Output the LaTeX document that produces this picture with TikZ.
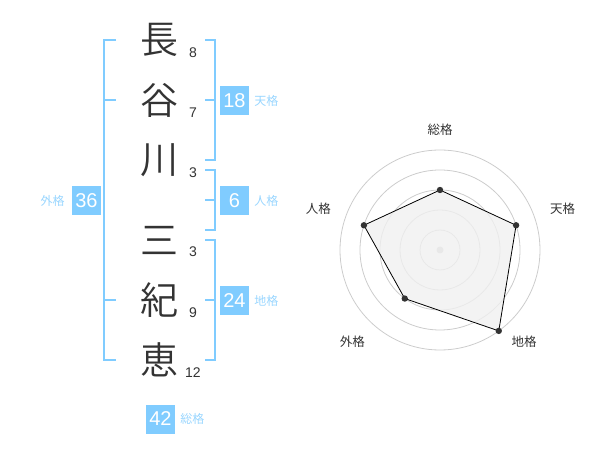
\documentclass[tikz,border=0pt]{standalone}
\usepackage{fontspec}
\setmainfont{Liberation Sans}
\newfontfamily\jpfont{Noto Sans CJK JP}
\newfontfamily\jplight{Noto Sans CJK JP DemiLight}
\usetikzlibrary{positioning}
\definecolor{inkdark}{HTML}{333333}
\definecolor{kakublue}{HTML}{80CCFF}
\definecolor{kakulight}{HTML}{99D6FF}
\definecolor{ringgray}{HTML}{CCCCCC}
\definecolor{areagray}{HTML}{F0F0F0}
\begin{document}
\begin{tikzpicture}[x=1pt,y=-1pt,
    kanji/.style={font=\jplight\fontsize{38}{38}\selectfont, text=inkdark},
    strokes/.style={font=\fontsize{14}{14}\selectfont, text=inkdark},
    bracket/.style={draw=kakublue, line width=2pt},
    kakubox/.style={fill=kakublue, text=white, minimum size=29pt,
        font=\fontsize{20}{20}\selectfont},
    kakulabel/.style={text=kakulight, font=\jpfont\fontsize{12}{12}\selectfont},
    axislabel/.style={text=inkdark, font=\jpfont\fontsize{12.5}{12.5}\selectfont}]
    \tikzstyle{every node}+=[inner sep=0pt]
    \useasboundingbox (0,0) rectangle (600,470);
    % name characters
    \node [kanji] (c1) at (159,40) {長};
    \node [kanji] (c2) at (159,100) {谷};
    \node [kanji] (c3) at (159,160) {川};
    \node [kanji] (c4) at (159,240) {三};
    \node [kanji] (c5) at (159,300) {紀};
    \node [kanji] (c6) at (159,360) {恵};
    % stroke counts
    \node [strokes] (n1) at (193,53) {8};
    \node [strokes] (n2) at (193,113) {7};
    \node [strokes] (n3) at (193,173) {3};
    \node [strokes] (n4) at (193,252) {3};
    \node [strokes] (n5) at (193,313) {9};
    \node [strokes] (n6) at (193,373) {12};
    % brackets
    \draw [bracket] (116,40) -- (104,40) -- (104,360) -- (116,360);
    \draw [bracket] (104,100) -- (116,100);
    \draw [bracket] (104,300) -- (116,300);
    \draw [bracket] (205,40) -- (215,40) -- (215,160) -- (205,160);
    \draw [bracket] (205,100) -- (215,100);
    \draw [bracket] (205,170) -- (215,170) -- (215,230) -- (205,230);
    \draw [bracket] (205,200) -- (215,200);
    \draw [bracket] (205,240) -- (215,240) -- (215,360) -- (205,360);
    \draw [bracket] (205,300) -- (215,300);
    % totals
    \node [kakubox] (tenkaku) at (234.5,100.5) {18};
    \node [kakulabel, right=5pt of tenkaku] (tenkaku-l) {天格};
    \node [kakubox] (jinkaku) at (234.5,200.5) {6};
    \node [kakulabel, right=5pt of jinkaku] (jinkaku-l) {人格};
    \node [kakubox] (chikaku) at (234.5,300.5) {24};
    \node [kakulabel, right=5pt of chikaku] (chikaku-l) {地格};
    \node [kakubox] (gaikaku) at (86.5,200.5) {36};
    \node [kakulabel, left=7pt of gaikaku] (gaikaku-l) {外格};
    \node [kakubox] (soukaku) at (160.5,419) {42};
    \node [kakulabel, right=5pt of soukaku] (soukaku-l) {総格};
    % radar chart
    \begin{scope}[shift={(440,250)}, yscale=-1]
    \foreach \r in {20,40,...,100}
        \draw [ringgray, line width=0.8pt] (0,0) circle (\r);
    \fill [ringgray] (0,0) circle (3.5);
    \draw [fill=areagray, fill opacity=0.8, draw=black, line width=0.8pt]
        (90:60) -- (18:80) -- (-54:100) -- (-126:60) -- (162:80) -- cycle;
    \foreach \a/\r in {90/60,18/80,-54/100,-126/60,162/80}
        \fill [inkdark] (\a:\r) circle (3.2);
    \foreach \x/\y/\t/\n in {0/120/総格/ax1, 122.7/41.3/天格/ax2, 84/-92/地格/ax3,
        -87.7/-92/外格/ax4, -121.7/41.3/人格/ax5}
        \node [axislabel] (\n) at (\x,\y) {\t};
    \end{scope}
\end{tikzpicture}
\end{document}
